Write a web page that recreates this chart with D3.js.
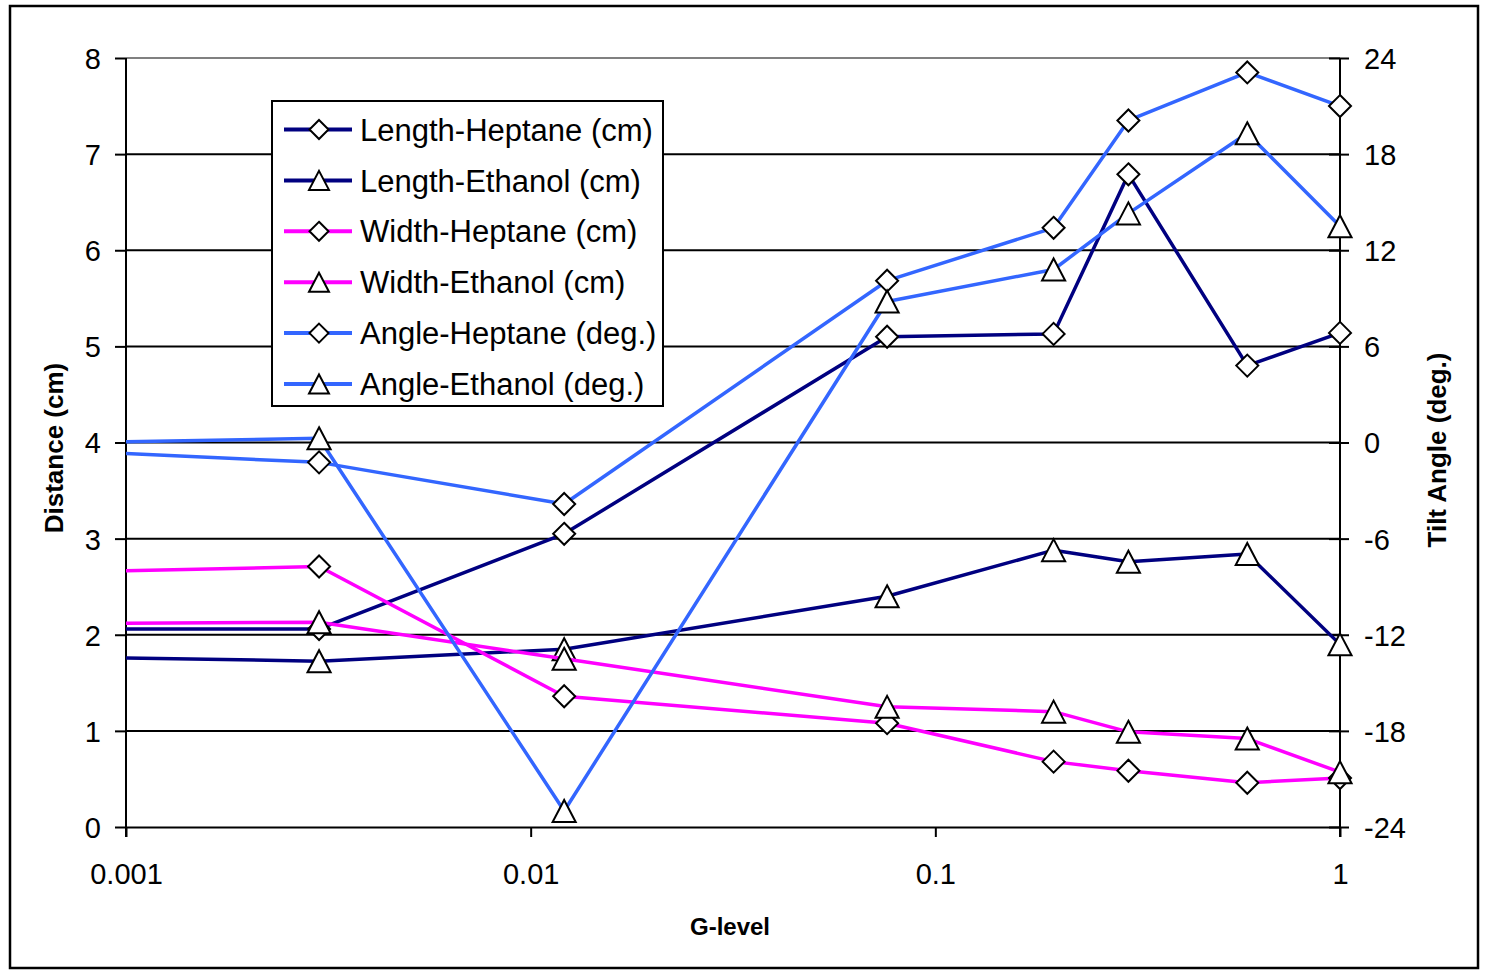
<!DOCTYPE html>
<html>
<head>
<meta charset="utf-8">
<script src="https://cdn.jsdelivr.net/npm/d3@7"></script>
<style>
  body { margin: 0; background: #fff; }
  svg { display: block; font-family: "Liberation Sans", Arial, sans-serif; }
</style>
</head>
<body>
<div id="vis"></div>
<script>
// datos (el primer punto queda fuera del area, a la izquierda de 0.001)
const G_LEVEL = [0.0001, 0.003, 0.0121, 0.076, 0.196, 0.3, 0.59, 1];

const LENGTH_HEPTANE = [2.06, 2.06, 3.05, 5.10, 5.13, 6.79, 4.80, 5.14];
const LENGTH_ETHANOL = [1.83, 1.725, 1.85, 2.40, 2.88, 2.76, 2.84, 1.90];
const WIDTH_HEPTANE = [2.57, 2.71, 1.36, 1.08, 0.68, 0.585, 0.46, 0.51];
const WIDTH_ETHANOL = [2.10, 2.13, 1.75, 1.25, 1.20, 0.99, 0.92, 0.57];
const ANGLE_HEPTANE = [0.46, -1.24, -3.84, 10.1, 13.4, 20.1, 23.1, 21.0];
const ANGLE_ETHANOL = [-0.39, 0.26, -23.0, 8.8, 10.8, 14.3, 19.3, 13.5];

const X_TICKS = [0.001, 0.01, 0.1, 1];
const X_TICK_LABELS = ["0.001", "0.01", "0.1", "1"];
const Y_LEFT_TICKS = [0, 1, 2, 3, 4, 5, 6, 7, 8];
const Y_RIGHT_TICKS = [-24, -18, -12, -6, 0, 6, 12, 18, 24];

const SERIES = [
  { name: "Length-Heptane (cm)", values: LENGTH_HEPTANE, color: "#000080", marker: "diamond", axis: "left" },
  { name: "Length-Ethanol (cm)", values: LENGTH_ETHANOL, color: "#000080", marker: "triangle", axis: "left" },
  { name: "Width-Heptane (cm)", values: WIDTH_HEPTANE, color: "#FF00FF", marker: "diamond", axis: "left" },
  { name: "Width-Ethanol (cm)", values: WIDTH_ETHANOL, color: "#FF00FF", marker: "triangle", axis: "left" },
  { name: "Angle-Heptane (deg.)", values: ANGLE_HEPTANE, color: "#3366FF", marker: "diamond", axis: "right" },
  { name: "Angle-Ethanol (deg.)", values: ANGLE_ETHANOL, color: "#3366FF", marker: "triangle", axis: "right" },
];

const WIDTH = 1486;
const HEIGHT = 971;

const PLOT = { left: 126, right: 1340, top: 58, bottom: 827 };

const SVG = d3.select("#vis").append("svg")
  .attr("width", WIDTH).attr("height", HEIGHT);

// marco exterior
SVG.append("rect")
  .attr("x", 10).attr("y", 6)
  .attr("width", 1468).attr("height", 962)
  .attr("fill", "none").attr("stroke", "#000").attr("stroke-width", 2.5);

// Escalas
const x = d3.scaleLog().domain([0.001, 1]).range([PLOT.left, PLOT.right]);
const yLeft = d3.scaleLinear().domain([0, 8]).range([PLOT.bottom, PLOT.top]);
const yRight = d3.scaleLinear().domain([-24, 24]).range([PLOT.bottom, PLOT.top]);

// grilla horizontal
SVG.append("g").selectAll("line")
  .data(Y_LEFT_TICKS.filter(d => d > 0 && d < 8))
  .join("line")
  .attr("x1", PLOT.left).attr("x2", PLOT.right)
  .attr("y1", d => yLeft(d)).attr("y2", d => yLeft(d))
  .attr("stroke", "#000").attr("stroke-width", 2);

// borde superior del area (gris)
SVG.append("line")
  .attr("x1", PLOT.left).attr("x2", PLOT.right)
  .attr("y1", PLOT.top).attr("y2", PLOT.top)
  .attr("stroke", "#808080").attr("stroke-width", 2);

// Eje izquierdo
const gLeft = SVG.append("g")
  .attr("transform", `translate(${PLOT.left},0)`)
  .call(d3.axisLeft(yLeft).tickValues(Y_LEFT_TICKS).tickFormat(d => String(d))
    .tickSize(11).tickPadding(14).tickSizeOuter(0));

// Eje derecho (guion normal en negativos, como en el original)
const gRight = SVG.append("g")
  .attr("transform", `translate(${PLOT.right},0)`)
  .call(d3.axisRight(yRight).tickValues(Y_RIGHT_TICKS).tickFormat(d => String(d))
    .tickSize(9).tickPadding(15).tickSizeOuter(0));
gRight.selectAll(".tick line").attr("x1", -11);

// Eje X
const gBottom = SVG.append("g")
  .attr("transform", `translate(0,${PLOT.bottom})`)
  .call(d3.axisBottom(x).tickValues(X_TICKS).tickFormat((d, i) => X_TICK_LABELS[i])
    .tickSize(10).tickPadding(26).tickSizeOuter(0));

[gLeft, gRight, gBottom].forEach(g => {
  g.select(".domain").attr("stroke", "#000").attr("stroke-width", 2);
  g.selectAll(".tick line").attr("stroke", "#000").attr("stroke-width", 2);
  g.selectAll(".tick text")
    .attr("fill", "#000")
    .style("font-size", "29px")
    .style("font-family", "'Liberation Sans', Arial, sans-serif");
});
gLeft.selectAll(".tick text").attr("dy", "0.36em");
gRight.selectAll(".tick text").attr("dy", "0.36em");
gLeft.select(".domain").attr("d", `M0,${PLOT.bottom + 10}V${PLOT.top}`);
gRight.select(".domain").attr("d", `M0,${PLOT.bottom + 10}V${PLOT.top}`);

// Titulos de ejes
SVG.append("text")
  .attr("transform", `translate(63,448) rotate(-90)`)
  .attr("text-anchor", "middle")
  .style("font-size", "26px").style("font-weight", "bold")
  .text("Distance (cm)");

SVG.append("text")
  .attr("transform", `translate(1446,450) rotate(-90)`)
  .attr("text-anchor", "middle")
  .style("font-size", "26px").style("font-weight", "bold")
  .text("Tilt Angle (deg.)");

SVG.append("text")
  .attr("x", 730).attr("y", 935)
  .attr("text-anchor", "middle")
  .style("font-size", "24px").style("font-weight", "bold")
  .text("G-level");

// Marcadores
function markerPath(type, s) {
  if (type === "diamond") return `M0,${-s}L${s},0L0,${s}L${-s},0Z`;
  return `M0,${-s}L${s * 1.05},${s}L${-s * 1.05},${s}Z`;
}

SVG.append("clipPath").attr("id", "plot-clip")
  .append("rect")
  .attr("x", PLOT.left).attr("y", 0)
  .attr("width", PLOT.right - PLOT.left).attr("height", HEIGHT);

// Series
SERIES.forEach(s => {
  const yScale = s.axis === "left" ? yLeft : yRight;
  const pts = G_LEVEL.map((g, i) => ({ g: g, v: s.values[i] }));

  const line = d3.line()
    .x(d => x(d.g))
    .y(d => yScale(d.v));

  const g = SVG.append("g");
  g.append("path")
    .datum(pts)
    .attr("clip-path", "url(#plot-clip)")
    .attr("d", line)
    .attr("fill", "none")
    .attr("stroke", s.color)
    .attr("stroke-width", 3.5)
    .attr("stroke-linejoin", "round");

  g.selectAll("path.marker")
    .data(pts.filter(d => d.g >= 0.001))
    .join("path")
    .attr("class", "marker")
    .attr("transform", d => `translate(${x(d.g)},${yScale(d.v)})`)
    .attr("d", markerPath(s.marker, 11))
    .attr("fill", "#fff")
    .attr("stroke", "#000")
    .attr("stroke-width", 2)
    .attr("stroke-linejoin", "miter");
});

// Leyenda
const LEGEND = { x: 272, y: 101, w: 391, h: 305, rowStart: 129.5, rowStep: 50.9 };
const legend = SVG.append("g");
legend.append("rect")
  .attr("x", LEGEND.x).attr("y", LEGEND.y)
  .attr("width", LEGEND.w).attr("height", LEGEND.h)
  .attr("fill", "#fff").attr("stroke", "#000").attr("stroke-width", 2);

const rows = legend.selectAll("g.row")
  .data(SERIES)
  .join("g")
  .attr("class", "row")
  .attr("transform", (d, i) => `translate(0,${LEGEND.rowStart + i * LEGEND.rowStep})`);

rows.append("line")
  .attr("x1", 284).attr("x2", 352)
  .attr("stroke", d => d.color).attr("stroke-width", 4);

rows.append("path")
  .attr("transform", "translate(319,0)")
  .attr("d", d => markerPath(d.marker, 9.5))
  .attr("fill", "#fff").attr("stroke", "#000").attr("stroke-width", 2);

rows.append("text")
  .attr("x", 360).attr("dy", "0.36em")
  .style("font-size", "31px")
  .text(d => d.name);
</script>
</body>
</html>
